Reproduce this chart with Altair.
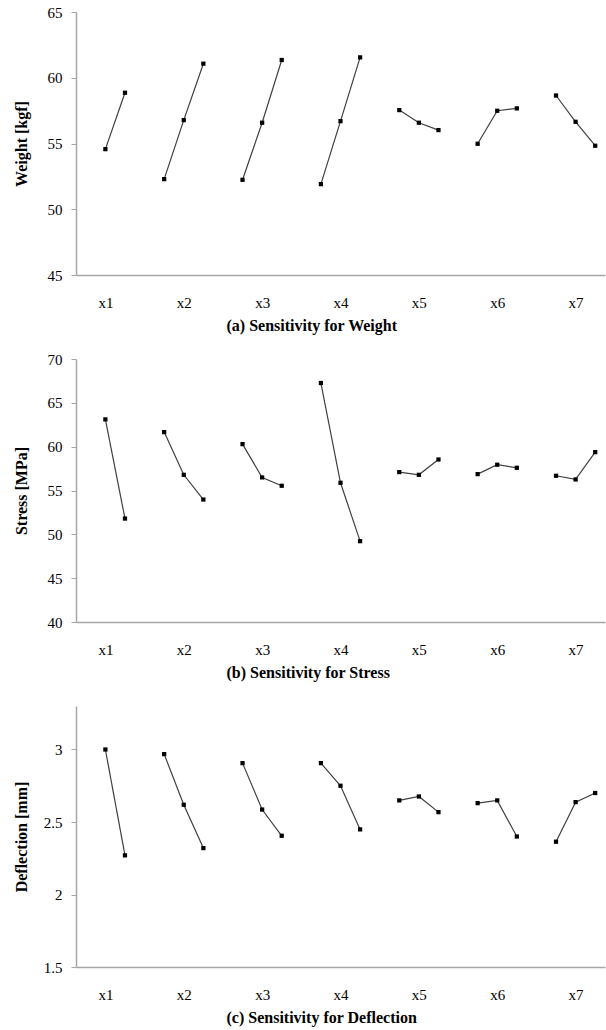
import altair as alt
import pandas as pd

categories = ["x1", "x2", "x3", "x4", "x5", "x6", "x7"]
# level numbers plotted for each factor (x1 has only two levels)
levels = [[2, 3], [1, 2, 3], [1, 2, 3], [1, 2, 3], [1, 2, 3], [1, 2, 3], [1, 2, 3]]

weight = [[54.57, 58.86], [52.29, 56.78, 61.07], [52.24, 56.58, 61.35],
          [51.91, 56.70, 61.55], [57.54, 56.58, 56.02], [54.98, 57.49, 57.67],
          [58.65, 56.65, 54.83]]
stress = [[63.11, 51.80], [61.66, 56.79, 53.97], [60.29, 56.49, 55.54],
          [67.26, 55.88, 49.22], [57.10, 56.79, 58.54], [56.87, 57.94, 57.59],
          [56.68, 56.26, 59.38]]
deflection = [[3.00, 2.27], [2.968, 2.619, 2.32], [2.906, 2.586, 2.405],
              [2.906, 2.75, 2.449], [2.649, 2.676, 2.568], [2.63, 2.649, 2.40],
              [2.364, 2.637, 2.70]]

weight_ticks = [45, 50, 55, 60, 65]
stress_ticks = [40, 45, 50, 55, 60, 65, 70]
deflection_ticks = [1.5, 2, 2.5, 3]

SLOTS = 4  # positions per factor group on the x axis
FONT = "Liberation Serif"


def make_df(values):
    rows = []
    for k, (cat, lv, vals) in enumerate(zip(categories, levels, values)):
        for l, v in zip(lv, vals):
            rows.append({"cat": cat, "pos": SLOTS * k + (l - 1) + 0.5, "value": v})
    return pd.DataFrame(rows)


label_expr = "[" + ",".join("'%s'" % c for c in categories) + "][floor(datum.value / %d)]" % SLOTS
x_tick_vals = [SLOTS * k + 1.5 for k in range(len(categories))]


def panel(values, ytitle, xtitle, ydomain, yticks, height):
    df = make_df(values)
    x = alt.X(
        "pos:Q",
        scale=alt.Scale(domain=[0, SLOTS * len(categories) - 1], nice=False, zero=False),
        axis=alt.Axis(
            values=x_tick_vals, labelExpr=label_expr, ticks=False, tickSize=0,
            labelPadding=20, labelFont=FONT, labelFontSize=15, labelColor="black",
            domainColor="#a6a6a6", domainWidth=1.5, grid=False,
            title=xtitle, titleFont=FONT, titleFontSize=16, titleFontWeight="bold",
            titleColor="black", titleX=150, titleAlign="left", titlePadding=7,
        ),
    )
    y = alt.Y(
        "value:Q",
        scale=alt.Scale(domain=ydomain, nice=False, zero=False),
        axis=alt.Axis(
            values=yticks, format="~g", tickSize=5, labelPadding=9,
            labelFont=FONT, labelFontSize=15, labelColor="black",
            domainColor="#a6a6a6", domainWidth=1.5, tickColor="#a6a6a6", grid=False,
            title=ytitle, titleFont=FONT, titleFontSize=16, titleFontWeight="bold",
            titleColor="black", titlePadding=7, minExtent=40, maxExtent=40,
        ),
    )
    base = alt.Chart(df)
    lines = base.mark_line(color="#404040", strokeWidth=1.2).encode(x=x, y=y, detail="cat:N")
    pts = base.mark_point(shape="square", filled=True, color="black", size=18, opacity=1).encode(
        x=x, y=y, detail="cat:N")
    return alt.layer(lines, pts).properties(width=529, height=height)


a = panel(weight, "Weight [kgf]", "(a) Sensitivity for Weight", [45, 65], weight_ticks, 263)
b = panel(stress, "Stress [MPa]", "(b) Sensitivity for Stress", [40, 70], stress_ticks, 263)
c = panel(deflection, "Deflection [mm]", "(c) Sensitivity for Deflection", [1.5, 3.3], deflection_ticks, 261)

chart = alt.vconcat(a, b, c, spacing=84, bounds="flush").properties(
    padding={"left": 13, "top": 5, "right": 1, "bottom": 5},
    background="white",
).configure_view(stroke=None)

chart.save("out.html", embed_options={"renderer": "svg", "actions": False})
